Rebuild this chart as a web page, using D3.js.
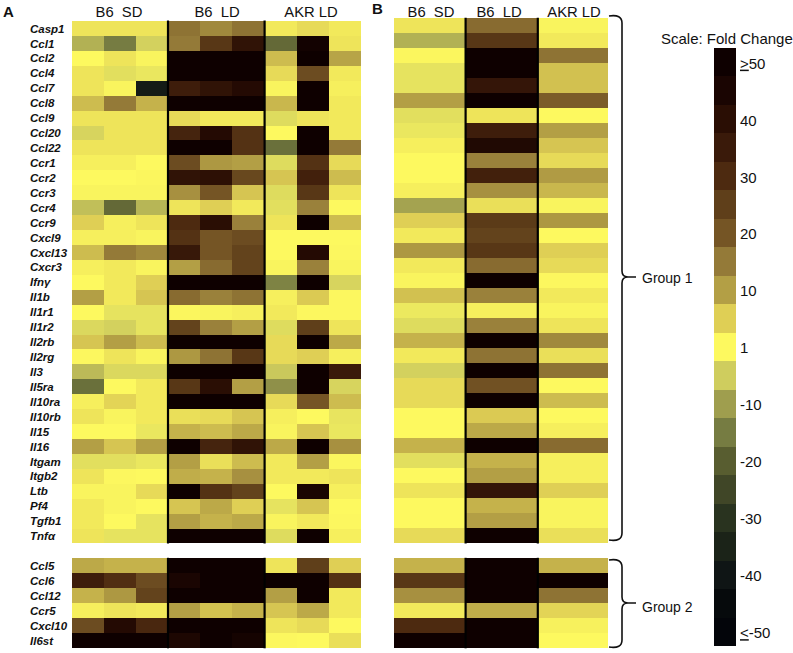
<!DOCTYPE html>
<html>
<head>
<meta charset="utf-8">
<script src="https://cdn.jsdelivr.net/npm/d3@7"></script>
<style>
  html, body { margin: 0; padding: 0; background: #fff; }
  text { font-family: "Liberation Sans", Arial, sans-serif; fill: #111; }
</style>
</head>
<body>
<div id="chart"></div>
<script>
const group1Genes = ["Casp1","Ccl1","Ccl2","Ccl4","Ccl7","Ccl8","Ccl9","Ccl20","Ccl22","Ccr1","Ccr2","Ccr3","Ccr4","Ccr9","Cxcl9","Cxcl13","Cxcr3","Ifnγ","Il1b","Il1r1","Il1r2","Il2rb","Il2rg","Il3","Il5ra","Il10ra","Il10rb","Il15","Il16","Itgam","Itgb2","Ltb","Pf4","Tgfb1","Tnfα"];
const group2Genes = ["Ccl5","Ccl6","Ccl12","Ccr5","Cxcl10","Il6st"];
const conditions = ["B6  SD", "B6  LD", "AKR LD"];

// Panel A: three replicates for each condition, fold change
const panelAGroup1 = [
  [3,3,3, 16,13,16, 2.5,4,2.5],
  [-8,-15,-4.5, 15,27,38, -18,48,3],
  [1,3,1.5, 50,50,50, 7,50,9.5],
  [3,-2.5,-1.5, 50,50,50, 4,22,2.5],
  [3,1.5,-38, 34,38,42, 1.5,50,2],
  [7,15,8, 50,50,50, 7.5,50,2.5],
  [3,3,3, 4,2.5,2.5, -3,3,2.5],
  [-4,3,3, 32,42,28, 1,50,2.5],
  [3,3,3, 50,50,28, -17,50,15],
  [2,2,1, 22,11,10, -3,28,4],
  [1,1,1.3, 38,39,23, 6,33,7],
  [1.5,1.5,1.5, 12,20,6, -3,27,3],
  [-6.5,-18,-7.5, 3,5,2.5, -2.5,14,1],
  [5,2,3, 30,40,14, 3,50,7],
  [2,2,1.5, 28,20,22, 1,1,1],
  [7,15,13, 36,20,24, 1,42,1.2],
  [2,2.5,1.5, 10,17,24, 1.5,14,1.5],
  [1,2.5,5, 50,50,50, -14,50,-4],
  [10,2.5,6, 17,14,16, 2,5.5,1.2],
  [1,-2,-2, 1.3,1.5,2, 2.5,1.2,1.2],
  [-3.5,-4.5,-2, 24,14,10, -3,25,3],
  [6,10,7, 50,50,50, 4,50,9],
  [1.2,3,1.5, 11,16,27, 4,5,2],
  [-7,-3.5,-3.5, 50,50,50, -5.5,50,35],
  [-17,1,2.5, 27,40,10, -12,50,-4],
  [2,4.5,2.5, 50,50,50, 4,20,7],
  [3,1.5,2.5, 3.5,4,6, 2,1,-1.8],
  [1,1,-1.5, 8,7,9, 1.5,6,-1.5],
  [10,6,10, 50,32,38, 9,50,12],
  [-2.5,-2.5,-1.5, 10,3.5,7, 2.5,10,1.3],
  [3,1.2,1, 8.5,8,12, 2.5,2.5,3],
  [1.5,1.5,4, 50,28,24, 1,45,2],
  [2.5,1.5,1, 6,9,5, -2,6,1],
  [2.5,1,-2, 10,8,9, 1.5,2.5,1.2],
  [3,-2,-2, 50,50,50, -3,50,2]
];
const panelAGroup2 = [
  [9,8,8, 50,50,50, 3,25,5],
  [34,29,22, 45,50,50, 50,50,28],
  [8,11,24, 50,50,50, 10,50,2.5],
  [2,3,2.5, 10,6.5,8, 6,9,2.5],
  [22,42,31, 50,50,50, 3,4,1],
  [50,50,50, 44,50,47, 1.2,1,3.5]
];

// Panel B: condition averages
const panelBGroup1 = [
  [3,17,1.5],[-8,27,2.5],[1.3,50,16],[-2,50,6.5],[-2,37,6.5],[10,50,19],[-2.5,3,1],
  [-1.5,34,10],[2,43,6],[1,14,4],[1,33,10.5],[2,12,7.5],[-9.5,3.5,1.5],[5,26,11],
  [2.5,24,1],[11,27,5],[2.5,17,4],[1.5,50,1.2],[6.5,14,2.5],[-1.2,2,1.5],[-3,14,3],
  [8,50,13],[2.5,16,3.5],[-4.5,50,16],[4,21,1],[4,50,7],[1,5.5,1],[1,9,2],[8,50,17],
  [-2.5,8,2],[1,10,2],[3,37,5],[1,8,1.5],[1,10,1.5],[4,50,3.5]
];
const panelBGroup2 = [
  [8,50,8],[27,50,50],[12,50,16],[2.5,8.5,4.5],[30,50,1.8],[50,50,1]
];

// Colour key
const scaleStops = [50,45,40,35,30,25,20,15,10,5,1,-5,-10,-15,-20,-25,-30,-35,-40,-45,-50];
const scaleColors = ["#0e0000","#1a0502","#2a0e04","#3a1a0a","#4d2a10","#5f3f1a","#755525","#947a38","#b39f45","#dfcf55","#fdf95f","#cfcd5e","#9f9e4e","#767c42","#585d30","#404627","#29331f","#1b2318","#0f1515","#060a0c","#03050a"];
const scaleLabels = [50,40,30,20,10,1,-10,-20,-30,-40,-50];

const width = 793;
const height = 653;

const foldColor = d3.scaleLinear().domain(scaleStops).range(scaleColors).clamp(true);

const svg = d3.select("#chart").append("svg")
  .attr("width", width)
  .attr("height", height)
  .attr("viewBox", [0, 0, width, height])
  .style("display", "block");

// One block of the heatmap: rows are genes, columns are split evenly in each condition
function drawBlock(rows, genes, yRange, conditionEdges) {
  const y = d3.scaleBand().domain(genes).range(yRange);
  const replicates = rows[0].length / conditions.length;
  const x = i => {
    const condition = Math.floor(i / replicates);
    const inner = d3.scaleBand().domain(d3.range(replicates))
      .range([conditionEdges[condition], conditionEdges[condition + 1]]);
    return { left: inner(i % replicates), width: inner.bandwidth() };
  };

  const rowGroups = svg.append("g").selectAll("g")
    .data(rows)
    .join("g")
    .attr("transform", (d, i) => `translate(0,${y(genes[i])})`);

  rowGroups.selectAll("rect")
    .data(d => d)
    .join("rect")
    .attr("x", (d, i) => x(i).left)
    .attr("width", (d, i) => x(i).width)
    .attr("height", y.bandwidth())
    .attr("shape-rendering", "crispEdges")
    .attr("fill", d => foldColor(d));

  // Black separators between conditions
  svg.append("g").selectAll("line")
    .data(conditionEdges.slice(1, 3))
    .join("line")
    .attr("x1", d => d)
    .attr("x2", d => d)
    .attr("y1", yRange[0] - 0.5)
    .attr("y2", yRange[1])
    .attr("stroke", "#000")
    .attr("stroke-width", 2.2);

  return y;
}

const panelAEdges = [72, 168, 264.6, 360.5];
const panelBEdges = [394, 465.6, 537.8, 608];

const a1 = drawBlock(panelAGroup1, group1Genes, [21, 543.5], panelAEdges);
const a2 = drawBlock(panelAGroup2, group2Genes, [558.3, 648.3], panelAEdges);
drawBlock(panelBGroup1, group1Genes, [18.3, 543.5], panelBEdges);
drawBlock(panelBGroup2, group2Genes, [558.3, 648.3], panelBEdges);

// Gene labels, panel A only
[[group1Genes, a1], [group2Genes, a2]].forEach(([genes, y]) => {
  svg.append("g").selectAll("text")
    .data(genes)
    .join("text")
    .attr("x", 30)
    .attr("y", d => y(d) + y.bandwidth() / 2)
    .attr("dy", "0.36em")
    .attr("font-size", 11.5)
    .attr("font-weight", "bold")
    .attr("font-style", "italic")
    .text(d => d);
});

// Condition headers
function drawHeaders(centers) {
  svg.append("g").selectAll("text")
    .data(conditions)
    .join("text")
    .attr("x", (d, i) => centers[i])
    .attr("y", 17)
    .attr("text-anchor", "middle")
    .attr("font-size", 14.8)
    .style("white-space", "pre")
    .text(d => d);
}
drawHeaders([119, 217, 311]);
drawHeaders([431, 499, 574]);

svg.append("text").attr("x", 3).attr("y", 17).attr("font-size", 15).attr("font-weight", "bold").text("A");
svg.append("text").attr("x", 372).attr("y", 14).attr("font-size", 15).attr("font-weight", "bold").text("B");

// Curly brackets on the right of panel B
function drawBrace(top, bottom, tip, label, labelY) {
  const line = d3.path();
  line.moveTo(609, top + 1);
  line.quadraticCurveTo(622, top - 1, 622, top + 8);
  line.lineTo(622, tip - 6);
  line.quadraticCurveTo(622, tip, 628, tip);
  line.lineTo(636, tip);
  line.moveTo(628, tip);
  line.quadraticCurveTo(622, tip, 622, tip + 6);
  line.lineTo(622, bottom - 8);
  line.quadraticCurveTo(622, bottom + 1, 609, bottom - 1);
  svg.append("path")
    .attr("d", line.toString())
    .attr("fill", "none")
    .attr("stroke", "#111")
    .attr("stroke-width", 1.6);
  svg.append("text")
    .attr("x", 642)
    .attr("y", labelY)
    .attr("dy", "0.36em")
    .attr("font-size", 14)
    .text(label);
}
drawBrace(15, 541, 277, "Group 1", 278);
drawBrace(559, 648, 603, "Group 2", 607);

// Colour key
const keyY = d3.scaleBand().domain(scaleStops).range([48, 646]);

svg.append("g").selectAll("rect")
  .data(scaleStops)
  .join("rect")
  .attr("x", 714)
  .attr("y", d => keyY(d))
  .attr("width", 22)
  .attr("height", keyY.bandwidth())
  .attr("shape-rendering", "crispEdges")
  .attr("fill", d => foldColor(d));

const keyLabels = svg.append("g").selectAll("text")
  .data(scaleLabels)
  .join("text")
  .attr("x", 740)
  .attr("y", d => keyY(d) + keyY.bandwidth() / 2 + 1)
  .attr("dy", "0.36em")
  .attr("font-size", 15);

keyLabels.each(function(d) {
  const label = d3.select(this);
  if (d === 50) {
    label.append("tspan").attr("text-decoration", "underline").text(">");
    label.append("tspan").text("50");
  } else if (d === -50) {
    label.append("tspan").attr("text-decoration", "underline").text("<");
    label.append("tspan").text("-50");
  } else {
    label.text(d);
  }
});

svg.append("text")
  .attr("x", 661)
  .attr("y", 44)
  .attr("font-size", 15)
  .text("Scale: Fold Change");
</script>
</body>
</html>
